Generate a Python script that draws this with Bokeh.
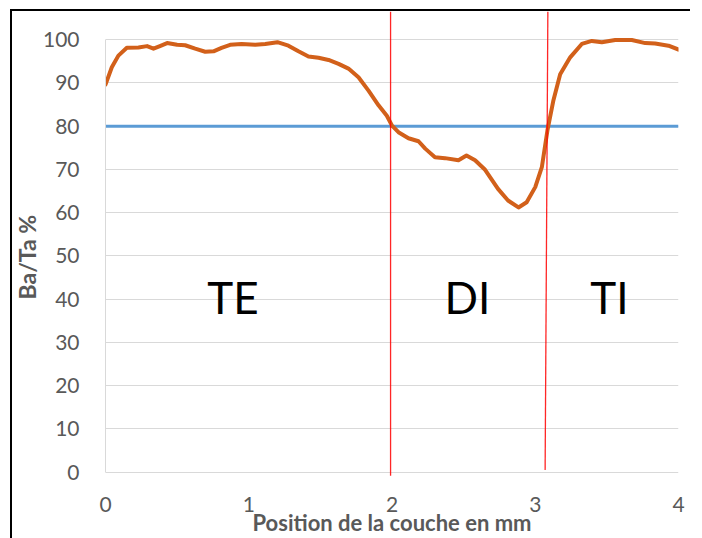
from bokeh.plotting import figure
from bokeh.models import FixedTicker, Title, ColumnDataSource
from bokeh.core.properties import value
from bokeh.embed import file_html
from bokeh.resources import INLINE

# ---- data ----
position_mm = [0, 0.044, 0.09, 0.149, 0.23, 0.29, 0.335, 0.38, 0.43, 0.50, 0.556, 0.626,
               0.696, 0.754, 0.81, 0.87, 0.95, 1.045, 1.115, 1.2, 1.277, 1.347, 1.417,
               1.487, 1.557, 1.627, 1.696, 1.766, 1.836, 1.906, 1.964, 2.0, 2.045, 2.115,
               2.185, 2.232, 2.30, 2.37, 2.464, 2.52, 2.58, 2.65, 2.74, 2.81, 2.883, 2.94,
               3.0, 3.046, 3.085, 3.127, 3.174, 3.244, 3.325, 3.395, 3.465, 3.558, 3.674,
               3.768, 3.837, 3.93, 4.0]
ba_ta = [89.6, 93.6, 96.3, 98.1, 98.2, 98.5, 97.9, 98.5, 99.2, 98.8, 98.7, 97.9,
         97.2, 97.3, 98.1, 98.8, 99.0, 98.8, 99.0, 99.4, 98.6, 97.3, 96.1,
         95.8, 95.3, 94.4, 93.3, 91.3, 88.2, 84.8, 82.4, 80.1, 78.6, 77.2,
         76.5, 74.8, 72.8, 72.6, 72.1, 73.2, 72.1, 69.9, 65.5, 62.8, 61.2, 62.4,
         65.9, 70.5, 79.0, 86.0, 92.0, 95.9, 99.0, 99.7, 99.4, 99.9, 99.9,
         99.2, 99.1, 98.6, 97.7]
threshold_x = [0, 4]
threshold_y = [80, 80]

boundary_x_top = [1.99, 3.088]
boundary_x_bottom = [1.99, 3.069]
boundary_y_top = [106.5, 106.5]
boundary_y_bottom = [-0.8, 0.5]

zone_names = ["TE", "DI", "TI"]
zone_x = [0.89, 2.527, 3.518]
zone_y = [40.6, 40.6, 40.6]

x_ticks = [0, 1, 2, 3, 4]
y_ticks = [0, 10, 20, 30, 40, 50, 60, 70, 80, 90, 100]

GRAY = "#595959"
FONT = "Lato"

p = figure(frame_width=573, frame_height=465, x_range=(0, 4), y_range=(-1, 106.5),
           output_backend="svg", toolbar_location=None,
           min_border_left=80, min_border_top=0, min_border_right=12, min_border_bottom=40,
           outline_line_color=None, background_fill_color="white", border_fill_color="white")
p.styles = {"border-left": "2px solid #000000", "border-top": "2px solid #000000",
            "margin-left": "10px", "margin-top": "9px"}

# grid
p.xgrid.visible = False
p.ygrid.ticker = FixedTicker(ticks=y_ticks)
p.ygrid.grid_line_color = "#D9D9D9"
p.ygrid.grid_line_width = 1

# axes
p.xaxis.ticker = FixedTicker(ticks=x_ticks)
p.yaxis.ticker = FixedTicker(ticks=y_ticks)
for ax in (p.xaxis, p.yaxis):
    ax.major_tick_line_color = None
    ax.minor_tick_line_color = None
    ax.major_label_text_font = FONT
    ax.major_label_text_font_size = "21px"
    ax.major_label_text_color = GRAY
p.xaxis.axis_line_color = None
p.yaxis.axis_line_color = "#D9D9D9"
p.yaxis.bounds = (0, 100)
p.yaxis.major_label_standoff = 20
p.xaxis.major_label_standoff = 14
p.xaxis.axis_label = "Position de la couche en mm"
p.xaxis.axis_label_text_font = FONT
p.xaxis.axis_label_text_font_style = "bold"
p.xaxis.axis_label_text_font_size = "22px"
p.xaxis.axis_label_text_color = GRAY
p.xaxis.axis_label_standoff = -6

# y title (positioned from the bottom of the plot frame)
p.add_layout(Title(text="Ba/Ta %", align="left", offset=177, text_font=FONT,
                   text_font_style="bold", text_font_size="23px", text_color=GRAY,
                   standoff=-3), "left")

# series
p.line(threshold_x, threshold_y, line_color="#5B9BD5", line_width=3)
p.line(position_mm, ba_ta, line_color="#D2601A", line_width=4, line_join="round", line_cap="round")
p.segment(x0=boundary_x_top, y0=boundary_y_top, x1=boundary_x_bottom, y1=boundary_y_bottom,
          line_color="#FF0000", line_width=1.3, line_alpha=0.85)

src = ColumnDataSource(dict(x=zone_x, y=zone_y, t=zone_names))
p.text(x="x", y="y", text="t", source=src, text_align="center", text_baseline="middle",
       text_font=value(FONT), text_font_size="44px", text_color="#000000")

open("out.html", "w").write(file_html(p, INLINE))
